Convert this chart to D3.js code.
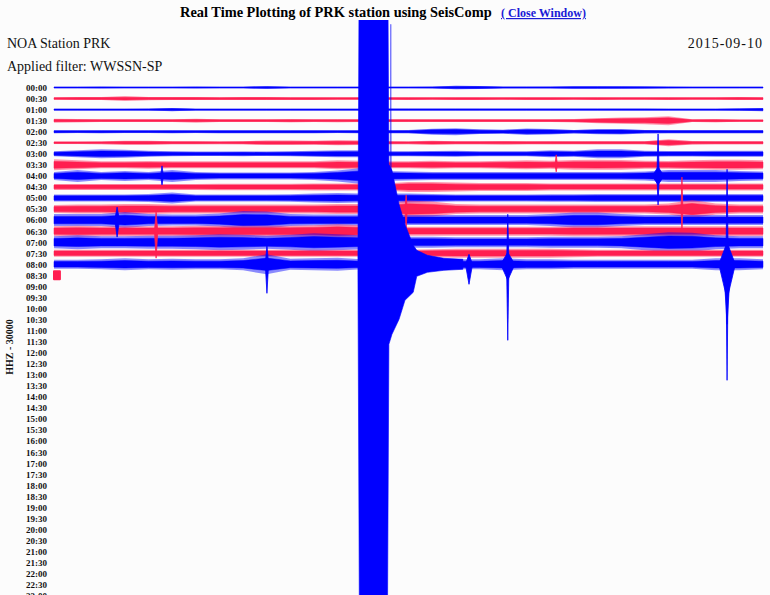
<!DOCTYPE html>
<html><head><meta charset="utf-8">
<script src="https://cdn.jsdelivr.net/npm/d3@7/dist/d3.min.js"></script>
<style>body{margin:0;background:#fcfcfc;}svg{display:block;}</style>
</head><body>
<script>
// ---------- DATA ----------
const titleText = "Real Time Plotting of PRK station using SeisComp";
const linkText = "( Close Window)";
const stationText = "NOA Station PRK";
const dateText = "2015-09-10";
const filterText = "Applied filter: WWSSN-SP";
const channelText = "HHZ - 30000";

const rowLabels = ["00:00","00:30","01:00","01:30","02:00","02:30","03:00","03:30","04:00","04:30",
 "05:00","05:30","06:00","06:30","07:00","07:30","08:00","08:30","09:00","09:30",
 "10:00","10:30","11:00","11:30","12:00","12:30","13:00","13:30","14:00","14:30",
 "15:00","15:30","16:00","16:30","17:00","17:30","18:00","18:30","19:00","19:30",
 "20:00","20:30","21:00","21:30","22:00","22:30","23:00","23:30"];

// envelope half-amplitude per minute (0..30) of each 30-minute row
const env00 = [0.8,0.8,0.9,0.8,0.8,0.8,0.9,0.8,0.8,1.4,0.8,0.8,0.8,0.8,0.8,0.8,0.9,1.8,1.5,0.9,0.9,1.0,1.3,1.3,1.2,1.1,0.9,0.8,0.8,0.8,0.8];
const env01 = [1.3,1.5,1.5,2.2,1.6,1.5,1.5,1.4,1.5,1.5,1.4,1.4,1.3,1.3,1.3,1.4,1.3,1.4,1.4,1.3,1.4,1.4,1.3,1.4,1.3,1.3,1.4,1.3,1.3,1.5,1.4];
const env02 = [0.9,0.9,0.9,0.9,1.0,1.6,0.9,0.9,0.9,0.9,0.9,0.9,0.9,0.9,1.0,1.0,1.0,1.0,1.0,1.0,1.0,1.0,1.0,1.0,1.0,1.0,0.9,0.9,0.9,1.2,1.6];
const env03 = [1.8,1.6,1.3,1.3,1.3,1.3,1.8,1.3,1.3,1.3,1.6,1.4,1.5,1.4,1.4,1.4,1.3,1.3,1.3,1.3,1.3,1.3,1.6,2.5,3.2,3.5,4.5,1.3,1.6,1.2,1.2];
const env04 = [1.5,1.4,1.5,1.4,1.4,1.5,1.4,1.5,1.5,1.5,1.5,1.5,1.4,1.5,1.5,1.6,3.0,3.5,2.4,2.0,3.2,2.8,1.8,2.6,2.8,1.8,1.6,1.6,1.6,1.6,1.6];
const env05 = [1.3,1.3,1.4,2.0,2.0,1.5,1.5,1.4,1.6,2.2,2.2,2.0,2.4,2.2,1.5,1.4,2.0,1.6,1.6,1.8,1.5,1.6,1.5,1.6,1.5,1.6,3.5,1.8,1.6,1.6,1.5];
const env06 = [2.5,3.5,4.5,4.0,3.0,2.5,2.2,2.2,2.4,2.2,2.5,3.0,3.5,3.5,2.5,2.5,2.8,3.0,2.5,2.5,2.5,3.5,3.0,4.5,4.5,3.0,2.8,2.8,3.0,3.0,3.0];
const env07 = [5.5,4.5,3.5,3.5,3.8,3.5,3.5,3.5,3.5,3.5,3.5,3.5,4.5,4.0,3.5,3.5,4.0,3.5,3.5,4.0,4.5,4.0,4.8,5.0,4.8,4.0,3.8,4.5,5.0,5.0,4.5];
const env08 = [4.0,6.0,4.0,5.0,4.0,6.0,4.0,3.5,3.5,3.5,3.5,4.0,5.5,8.0,5.0,4.5,4.0,4.0,4.0,4.0,4.0,4.0,4.0,4.0,4.0,4.5,6.0,6.0,6.0,5.0,4.5];
const env09 = [3.0,3.0,3.0,3.0,3.0,3.0,3.0,3.2,3.2,3.2,3.2,3.5,3.5,3.5,3.5,5.0,5.0,4.5,4.0,4.0,4.0,3.5,3.5,3.5,3.5,3.5,3.5,3.5,3.5,3.5,3.5];
const env10 = [3.5,3.5,3.5,3.5,4.0,5.5,3.5,3.5,3.5,3.5,3.8,4.5,5.0,4.5,4.5,4.5,4.0,3.5,3.5,3.5,3.5,3.8,3.8,4.0,4.0,4.0,4.0,4.0,4.0,4.0,4.0];
const env11 = [4.0,4.5,4.5,5.0,5.0,4.5,4.5,4.5,4.5,4.5,4.5,4.5,5.0,5.0,5.0,8.5,7.5,5.0,4.5,4.5,4.5,4.5,4.5,4.5,4.5,4.5,5.5,9.0,5.5,4.5,4.5];
const env12 = [6.0,6.0,6.0,8.0,6.0,5.5,5.5,6.5,9.0,8.5,6.0,5.5,5.5,5.5,5.0,5.0,5.0,5.0,5.0,5.0,5.0,6.0,7.5,7.5,6.0,5.0,5.0,5.0,5.0,5.0,5.0];
const env13 = [5.0,5.5,5.0,5.0,5.0,5.0,5.5,5.5,5.5,5.5,5.5,6.0,7.0,6.0,5.0,4.5,4.5,4.5,4.5,4.5,4.5,4.5,5.0,5.0,5.0,5.0,5.0,5.0,5.0,5.0,5.0];
const env14 = [6.0,7.0,6.0,6.0,6.5,6.5,7.0,8.0,7.5,6.5,7.5,9.0,8.0,7.0,6.0,5.5,5.5,5.0,5.0,5.0,5.0,5.5,5.5,5.5,6.0,8.0,10.0,9.5,7.0,6.0,6.0];
const env15 = [3.5,3.5,3.5,3.5,3.5,3.5,3.5,3.5,3.5,3.5,3.5,3.5,3.5,3.5,3.5,3.5,4.0,4.5,4.5,4.5,4.5,4.5,4.0,3.5,3.5,3.5,3.5,3.5,3.5,3.5,3.5];
const env16 = [4.5,4.5,5.0,6.0,5.0,5.5,5.0,5.0,6.0,10.0,5.5,6.0,6.5,5.0,5.0,5.0,5.0,5.0,5.0,6.0,5.0,5.0,4.5,4.5,4.5,4.5,4.5,4.5,6.0,6.0,5.0];
const envelopes = [env00,env01,env02,env03,env04,env05,env06,env07,env08,env09,env10,env11,env12,env13,env14,env15,env16];

// last (incomplete) row 08:30
const lastRow = 17;
const lastRowMinutes = [0, 0.25];
const lastRowAmp = [4, 4];

// the large earthquake in row 08:00 (minute, amplitude above, amplitude below)
const quakeRow = 16;
const quakeMin  = [12.86, 12.93, 14.10, 14.17, 14.30, 14.60, 14.85, 15.20, 15.35, 15.80, 16.50, 17.30];
const quakeUp   = [6,     400,   400,   100,   94,    60,    40,    19,    14,    9,     6,     5];
const quakeDown = [6,     400,   400,   80,    70,    55,    36,    28,    12,    8,     6,     5];

// narrow spikes: row, minute, amplitude up, amplitude down, half-width (minutes)
const spikeRow  = [16,   16,   16,   16,    16,   16,    16,    8,     8,     8,    13,   12,   11,    11,    7,     16];
const spikeMin  = [9.01, 17.56,19.2, 19.2,  28.48,28.48, 28.48, 25.56, 25.56, 4.57, 4.32, 2.67, 26.57, 14.9,  21.25, 14.25];
const spikeUp   = [19,   10,   50,   12,    95,   22,    12,    42,    9,     10,   19,   13,   32,    14,    10,    240];
const spikeDown = [29,   20,   76,   16,    116,  35,    60,    29,    9,     9,    27,   17,   21,    20,    7,     0];
const spikeW    = [0.07, 0.15, 0.05, 0.3,   0.05, 0.35,  0.15,  0.05,  0.25,  0.06, 0.07, 0.1,  0.04,  0.05,  0.05,  0.03];

const rowColors = ["#0000ff", "#ff1e50"];

// ---------- CHART ----------
const W = 770, H = 595;
const svg = d3.select("body").append("svg").attr("width", W).attr("height", H);

const x = d3.scaleLinear().domain([0, 30]).range([54, 763]);
const y = d3.scaleLinear().domain([0, 47]).range([87.5, 87.5 + 47 * 11.05]);
const amp = d3.scaleLinear().domain([0, 10]).range([0, 10]);

svg.append("defs").append("clipPath").attr("id", "plotclip")
  .append("rect").attr("x", 0).attr("y", 20).attr("width", W).attr("height", H - 20);

const plot = svg.append("g").attr("clip-path", "url(#plotclip)");

const area = (row, k) => d3.area()
  .x(d => x(d.m))
  .y0(d => y(row) + amp(d.a) * k)
  .y1(d => y(row) - amp(d.a) * k);

envelopes.forEach((e, row) => {
  const pts = e.map((a, m) => ({m, a}));
  const c = rowColors[row % 2];
  // outer (sparse peaks) layer
  plot.append("path").datum(pts).attr("d", area(row, 1))
    .attr("fill", c).attr("fill-opacity", 0.45);
  // dense core
  plot.append("path").datum(pts).attr("d", area(row, 0.62))
    .attr("fill", c).attr("stroke", c).attr("stroke-width", 0.5);
});

plot.append("path")
  .datum(lastRowMinutes.map((m, i) => ({m, a: lastRowAmp[i]})))
  .attr("d", area(lastRow, 1))
  .attr("fill", rowColors[lastRow % 2])
  .attr("stroke", rowColors[lastRow % 2]).attr("stroke-width", 2).attr("stroke-linejoin", "round");

// spikes
spikeRow.forEach((r, i) => {
  const m = spikeMin[i], w = spikeW[i], b = y(r);
  const pts = [[x(m - w), b], [x(m), b - amp(spikeUp[i])], [x(m + w), b], [x(m), b + amp(spikeDown[i])]];
  plot.append("path")
    .attr("d", d3.line()(pts) + "Z")
    .attr("fill", rowColors[r % 2])
    .attr("stroke", rowColors[r % 2]).attr("stroke-width", 0.8)
    .attr("opacity", i === spikeRow.length - 1 ? 0.6 : 1);
});

// big quake
const qpts = quakeMin.map((m, i) => ({m, u: quakeUp[i], d: quakeDown[i]}));
plot.append("path").datum(qpts)
  .attr("d", d3.area().x(d => x(d.m)).y0(d => y(quakeRow) + amp(d.d)).y1(d => y(quakeRow) - amp(d.u)))
  .attr("fill", rowColors[0]).attr("stroke", rowColors[0]).attr("stroke-width", 0.6);

// row labels
const axis = d3.axisLeft(y).tickValues(d3.range(rowLabels.length))
  .tickFormat(i => rowLabels[i]).tickSize(0).tickPadding(7);
const ag = svg.append("g").attr("transform", "translate(54,0)").call(axis);
ag.select(".domain").remove();
ag.selectAll("text").attr("font-family", "Liberation Serif").attr("font-weight", "bold")
  .attr("font-size", 9).attr("fill", "#111");

// channel label
svg.append("text").attr("transform", "translate(13,347) rotate(-90)")
  .attr("text-anchor", "middle").attr("font-family", "Liberation Serif")
  .attr("font-weight", "bold").attr("font-size", 10).attr("fill", "#111")
  .attr("xml:space", "preserve").text(channelText);

// header texts
svg.append("text").attr("x", 180).attr("y", 17)
  .attr("font-family", "Liberation Serif").attr("font-weight", "bold").attr("font-size", 14.4)
  .attr("fill", "#000").text(titleText);
svg.append("text").attr("x", 501).attr("y", 17)
  .attr("font-family", "Liberation Serif").attr("font-weight", "bold").attr("font-size", 12)
  .attr("fill", "#1a1ad6").attr("text-decoration", "underline")
  .attr("xml:space", "preserve").text(linkText);

svg.append("text").attr("x", 7).attr("y", 48)
  .attr("font-family", "Liberation Serif").attr("font-size", 14).attr("fill", "#111").text(stationText);
svg.append("text").attr("x", 763).attr("y", 48).attr("text-anchor", "end")
  .attr("font-family", "Liberation Serif").attr("font-size", 14).attr("letter-spacing", 1)
  .attr("fill", "#111").text(dateText);
svg.append("text").attr("x", 7).attr("y", 71)
  .attr("font-family", "Liberation Serif").attr("font-size", 14).attr("fill", "#111").text(filterText);
</script>
</body></html>
